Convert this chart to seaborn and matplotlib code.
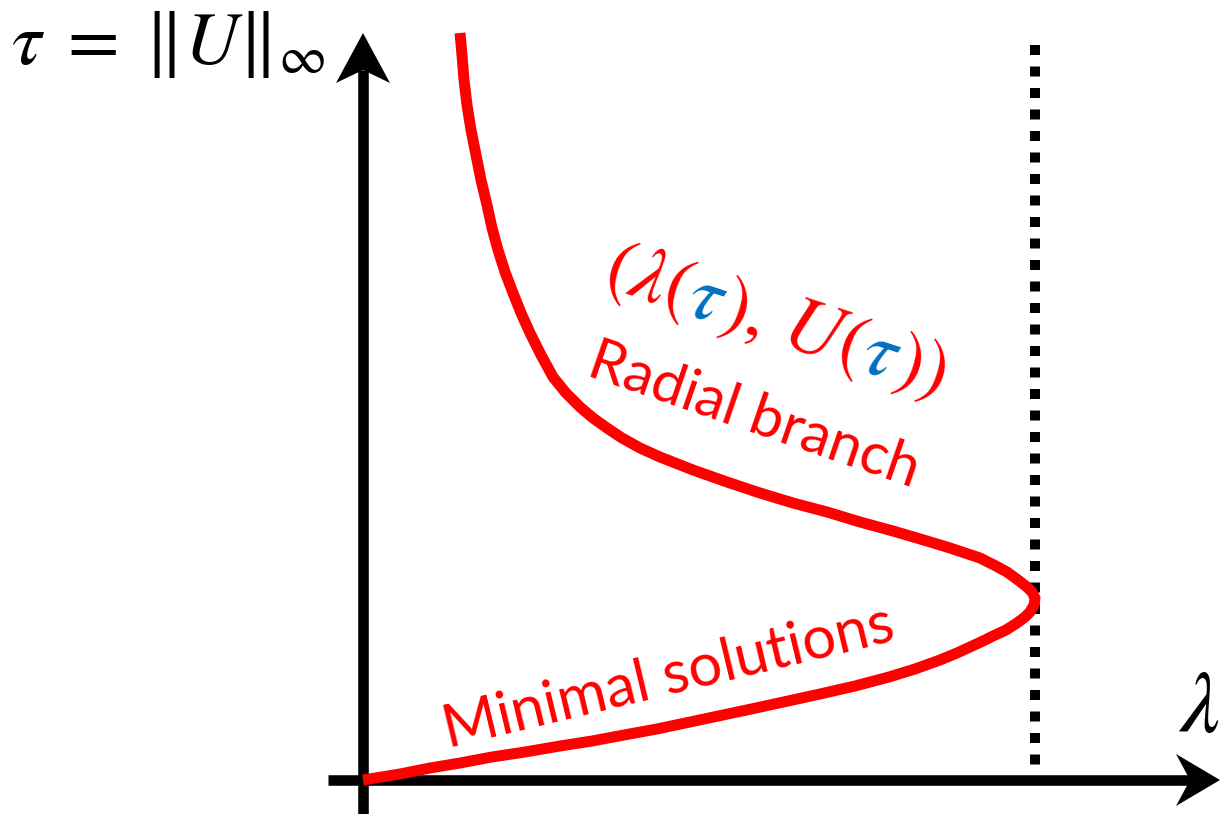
import numpy as np
import pandas as pd
import matplotlib
matplotlib.use("Agg")
import matplotlib.pyplot as plt
from matplotlib.patches import Polygon
import seaborn as sns

# Solution branch (lambda, tau) in schematic units, from the origin through the
# fold at lambda* to large tau
lam_branch = [0, 37, 67, 97, 129, 162, 197, 229, 261, 294, 327, 360, 393, 425,
              457, 492, 526, 552, 577, 594, 607, 620, 630, 643, 654, 662, 667,
              671, 672,
              669, 664, 655, 644, 631, 617, 602, 587, 564, 530, 497, 464, 430,
              397, 364, 330, 297, 277, 259, 244, 230, 217, 203, 190, 178, 167,
              158, 150, 142, 135, 129, 124, 118, 113, 108, 104, 101, 99, 97]
tau_branch = [0, 6, 12, 17, 23, 28, 34, 39, 45, 51, 58, 65, 72, 79,
              86, 94, 103, 111, 120, 127, 133, 139, 144, 150, 157, 163, 168,
              175, 182,
              188, 193, 200, 208, 215, 222, 227, 232, 239, 249, 258, 268, 277,
              287, 298, 310, 323, 332, 342, 352, 362, 373, 387, 403, 425, 447,
              467, 487, 508, 530, 552, 575, 600, 625, 650, 675, 700, 725, 747]
lam_star = 672          # fold point / extremal parameter
lam_star_top = 735      # top of the dotted marker line

df = pd.DataFrame({"lam": lam_branch, "tau": tau_branch})

sns.set_style("white")
plt.rcParams["font.family"] = ["Lato", "DejaVu Sans"]

RED = "#ff0000"
BLUE = "#0070c0"

fig = plt.figure(figsize=(12.2, 8.14), dpi=100)
ax = fig.add_axes([0, 0, 1, 1])
ax.set_xlim(-363, 857)
ax.set_ylim(-34, 780)
ax.axis("off")

# coordinate axes with arrow heads
ax.plot([0, 0], [-40, 710], color="black", lw=7.6, solid_capstyle="butt", zorder=2)
ax.plot([-35, 827], [0, 0], color="black", lw=7.6, solid_capstyle="butt", zorder=2)
ax.add_patch(Polygon([(0, 747), (27, 697), (0, 710), (-27, 697)],
                     closed=True, facecolor="black", edgecolor="none", zorder=3))
ax.add_patch(Polygon([(857, 0), (813, 26), (827, 0), (813, -26)],
                     closed=True, facecolor="black", edgecolor="none", zorder=3))

# dotted line at lambda*
ax.plot([lam_star, lam_star], [lam_star_top, 0], color="black", lw=7.2,
        linestyle=(0, (1.0, 1.15)), dash_capstyle="butt", zorder=2)

# bifurcation branch
sns.lineplot(data=df, x="lam", y="tau", sort=False, estimator=None, ax=ax,
             color=RED, lw=7.9, zorder=4)
branch_line = ax.lines[-1]
branch_line.set_solid_capstyle("butt")
branch_line.set_solid_joinstyle("round")
ax.set_xlabel("")
ax.set_ylabel("")

# axis labels
ax.text(-352, 716, r"$\tau\;=\;\|U\|_\infty$", fontsize=54, math_fontfamily="stix",
        ha="left", va="baseline", color="black")
ax.text(815, 48, r"$\lambda$", fontsize=64, math_fontfamily="stix",
        ha="left", va="baseline", color="black")

# branch labels
ax.text(222, 405, "Radial branch", fontsize=42, color=RED, rotation=-19,
        rotation_mode="anchor", ha="left", va="baseline")
ax.text(85, 32, "Minimal solutions", fontsize=43, color=RED, rotation=13.5,
        rotation_mode="anchor", ha="left", va="baseline")

# parametrisation label with coloured parameter
pieces = [(r"$(\lambda($", RED), (r"$\tau$", BLUE), (r"$),\,U($", RED),
          (r"$\tau$", BLUE), (r"$))$", RED)]
angle = -18.0
fs = 56
fig.canvas.draw()
renderer = fig.canvas.get_renderer()
x0, y0 = ax.transData.transform((238, 494))
d = np.array([np.cos(np.radians(angle)), np.sin(np.radians(angle))])
offset = 0.0
for s, c in pieces:
    px, py = np.array([x0, y0]) + offset * d
    xd, yd = ax.transData.inverted().transform((px, py))
    ax.text(xd, yd, s, fontsize=fs, color=c, math_fontfamily="stix",
            rotation=angle, rotation_mode="anchor", ha="left", va="baseline")
    tmp = ax.text(0, 0, s, fontsize=fs, math_fontfamily="stix")
    offset += tmp.get_window_extent(renderer).width
    tmp.remove()

fig.savefig("out.png", dpi=100)
